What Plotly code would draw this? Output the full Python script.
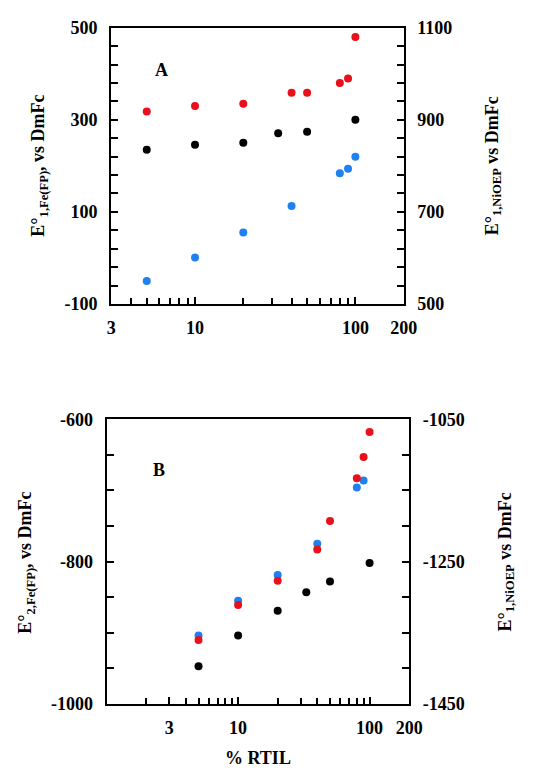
import plotly.graph_objects as go
import math

# ---- Panel A data ----
a_red_x = [5, 10, 20, 40, 50, 80, 90, 100]
a_red_y = [918, 930, 935, 959, 959, 980, 990, 1080]          # right axis (NiOEP)
a_black_x = [5, 10, 20, 33, 50, 100]
a_black_y = [235, 246, 250, 271, 274, 300]                    # left axis
a_blue_x = [5, 10, 20, 40, 80, 90, 100]
a_blue_y = [-50, 1, 55, 113, 184, 194, 220]                   # left axis

# ---- Panel B data ----
b_red_x = [5, 10, 20, 40, 50, 80, 90, 100]
b_red_y = [-1360, -1311, -1277, -1233, -1193, -1133, -1103, -1068]   # right axis (NiOEP)
b_blue_x = [5, 10, 20, 40, 80, 90]
b_blue_y = [-904, -855, -819, -775, -696, -686]
b_black_x = [5, 10, 20, 33, 50, 100]
b_black_y = [-947, -904, -869, -843, -828, -802]

x_ticks = [3, 10, 100, 200]
x_minor_a = [4, 5, 6, 7, 8, 9, 20, 30, 40, 50, 60, 70, 80, 90]
x_minor_b = [2, 4, 5, 6, 7, 8, 9, 20, 30, 40, 50, 60, 70, 80, 90]
ya_left_ticks = [-100, 100, 300, 500]
ya_right_ticks = [500, 700, 900, 1100]
yb_left_ticks = [-1000, -800, -600]
yb_right_ticks = [-1450, -1250, -1050]

RED = "#e8101a"
BLUE = "#1f80f0"
BLACK = "#000000"
FONT = "Liberation Serif"

W, H = 547, 777
fig = go.Figure()

def mk(color):
    return dict(color=color, size=8, line=dict(width=0))

fig.add_trace(go.Scatter(x=a_black_x, y=a_black_y, mode="markers", marker=mk(BLACK), xaxis="x", yaxis="y"))
fig.add_trace(go.Scatter(x=a_blue_x, y=a_blue_y, mode="markers", marker=mk(BLUE), xaxis="x", yaxis="y"))
fig.add_trace(go.Scatter(x=a_red_x, y=a_red_y, mode="markers", marker=mk(RED), xaxis="x", yaxis="y2"))

fig.add_trace(go.Scatter(x=b_black_x, y=b_black_y, mode="markers", marker=mk(BLACK), xaxis="x2", yaxis="y3"))
fig.add_trace(go.Scatter(x=b_red_x, y=b_red_y, mode="markers", marker=mk(RED), xaxis="x2", yaxis="y4"))
fig.add_trace(go.Scatter(x=b_blue_x, y=b_blue_y, mode="markers", marker=mk(BLUE), xaxis="x2", yaxis="y3"))

tickfont = dict(family=FONT, size=18, color="black", weight="bold")

def xax(domain, rng, minor_vals, anchor):
    return dict(type="log", domain=domain, range=rng, anchor=anchor,
                tickmode="array", tickvals=x_ticks, ticktext=[str(v) for v in x_ticks],
                ticks="inside", ticklen=7, tickwidth=1.5, tickcolor="black",
                minor=dict(tickmode="array", tickvals=minor_vals, ticks="inside",
                           ticklen=6, tickwidth=1.5, tickcolor="black"),
                showline=True, linecolor="black", linewidth=2, mirror=True,
                showgrid=False, zeroline=False, tickfont=tickfont,
                ticklabelstandoff=6)

def yax(domain, rng, tickvals, minor_dtick, anchor, side="left", overlay=None):
    d = dict(domain=domain, range=rng, anchor=anchor, side=side,
             tickmode="array", tickvals=tickvals, ticktext=[str(v) for v in tickvals],
             ticks="inside", ticklen=7, tickwidth=1.5, tickcolor="black",
             minor=dict(tickmode="linear", tick0=rng[0], dtick=minor_dtick, ticks="inside",
                        ticklen=7, tickwidth=1.5, tickcolor="black"),
             showline=True, linecolor="black", linewidth=2,
             showgrid=False, zeroline=False, tickfont=tickfont,
             ticklabelstandoff=8)
    if overlay:
        d["overlaying"] = overlay
    else:
        d["mirror"] = True
    return d

# pixel geometry
a_x0, a_x1, a_y0, a_y1 = 110, 413, 18.3, 301.7
b_x0, b_x1, b_y0, b_y1 = 105.3, 418.7, 420, 712.3

fig.update_layout(
    width=W, height=H, margin=dict(l=0, r=0, t=0, b=0),
    paper_bgcolor="white", plot_bgcolor="white", showlegend=False,
    xaxis=xax([a_x0 / W, a_x1 / W], [math.log10(3), math.log10(200)], x_minor_a, "y"),
    yaxis=yax([1 - a_y1 / H, 1 - a_y0 / H], [-100, 500], ya_left_ticks, 40, "x"),
    yaxis2=yax([1 - a_y1 / H, 1 - a_y0 / H], [500, 1100], ya_right_ticks, 40, "x", side="right", overlay="y"),
    xaxis2=xax([b_x0 / W, b_x1 / W], [0, math.log10(200)], x_minor_b, "y3"),
    yaxis3=yax([1 - b_y1 / H, 1 - b_y0 / H], [-1000, -600], yb_left_ticks, 50, "x2"),
    yaxis4=yax([1 - b_y1 / H, 1 - b_y0 / H], [-1450, -1050], yb_right_ticks, 50, "x2", side="right", overlay="y3"),
)

titlefont = dict(family=FONT, size=18, color="black", weight="bold")

def pann(text, x, y, angle=0, size=18):
    fig.add_annotation(text=text, x=x / W, y=1 - y / H, xref="paper", yref="paper",
                       showarrow=False, textangle=angle, xanchor="center", yanchor="middle",
                       font=dict(family=FONT, size=size, color="black", weight="bold"))

pann("E°<sub>1,Fe(FP)</sub>, vs DmFc", 36, 160, -90)
pann("E°<sub>1,NiOEP</sub> vs DmFc", 506, 160, -90)
pann("E°<sub>2,Fe(FP)</sub>, vs DmFc", 22, 567, -90)
pann("E°<sub>1,NiOEP</sub> vs DmFc", 519, 566, -90)
pann("% RTIL", 262, 768)

fig.add_annotation(text="A", x=math.log10(6.2), y=408, xref="x", yref="y", showarrow=False,
                   font=titlefont)
fig.add_annotation(text="B", x=math.log10(2.5), y=-671, xref="x2", yref="y3", showarrow=False,
                   font=titlefont)

fig.write_html("out.html")
